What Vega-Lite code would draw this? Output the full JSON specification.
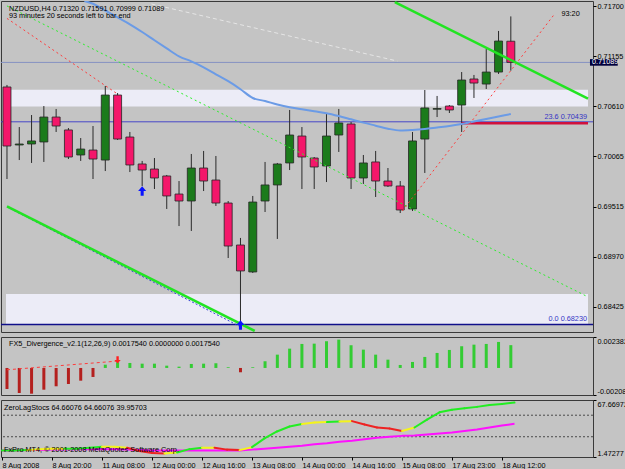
{
 "$schema": "https://vega.github.io/schema/vega-lite/v6.json",
 "background": "#c4c4c4",
 "padding": {"left": 0, "top": 0, "right": 0, "bottom": 0},
 "spacing": 3,
 "config": {
  "font": "Liberation Sans",
  "view": {"fill": "#c4c4c4", "stroke": "#3a3a3a", "strokeWidth": 1},
  "axis": {"labelFont": "Liberation Sans", "labelFontSize": 7.3, "labelColor": "#000000", "tickColor": "#000000", "tickSize": 3, "labelPadding": 1, "domain": false, "grid": false}
 },
 "datasets": {
  "candles": [
   {"i":0,"o":0.70821,"h":0.70843,"l":0.69817,"c":0.70177},
   {"i":1,"o":0.70188,"h":0.70384,"l":0.70024,"c":0.70199},
   {"i":2,"o":0.70199,"h":0.70515,"l":0.69992,"c":0.70232},
   {"i":3,"o":0.70221,"h":0.70613,"l":0.70003,"c":0.70493},
   {"i":4,"o":0.70493,"h":0.70581,"l":0.7033,"c":0.70395},
   {"i":5,"o":0.70352,"h":0.70373,"l":0.70035,"c":0.70057},
   {"i":6,"o":0.70079,"h":0.70264,"l":0.70014,"c":0.70144},
   {"i":7,"o":0.70133,"h":0.70395,"l":0.69817,"c":0.70035},
   {"i":8,"o":0.70024,"h":0.70832,"l":0.69904,"c":0.70733},
   {"i":9,"o":0.70733,"h":0.70755,"l":0.70243,"c":0.70253},
   {"i":10,"o":0.70275,"h":0.7033,"l":0.69893,"c":0.6997},
   {"i":11,"o":0.69981,"h":0.70014,"l":0.69741,"c":0.69915},
   {"i":12,"o":0.69926,"h":0.70046,"l":0.69708,"c":0.69828},
   {"i":13,"o":0.6985,"h":0.69861,"l":0.6949,"c":0.69632},
   {"i":14,"o":0.69653,"h":0.69795,"l":0.69304,"c":0.69577},
   {"i":15,"o":0.69577,"h":0.7009,"l":0.6925,"c":0.69937},
   {"i":16,"o":0.69937,"h":0.70123,"l":0.69686,"c":0.69795},
   {"i":17,"o":0.69806,"h":0.70068,"l":0.69523,"c":0.69555},
   {"i":18,"o":0.69555,"h":0.69577,"l":0.68955,"c":0.69086},
   {"i":19,"o":0.69097,"h":0.69174,"l":0.68214,"c":0.68814},
   {"i":20,"o":0.68803,"h":0.69632,"l":0.68792,"c":0.69566},
   {"i":21,"o":0.69577,"h":0.70003,"l":0.69457,"c":0.69752},
   {"i":22,"o":0.69752,"h":0.69992,"l":0.69163,"c":0.69981},
   {"i":23,"o":0.69992,"h":0.7057,"l":0.69915,"c":0.70297},
   {"i":24,"o":0.70286,"h":0.70384,"l":0.69708,"c":0.70057},
   {"i":25,"o":0.70046,"h":0.70057,"l":0.69708,"c":0.69948},
   {"i":26,"o":0.69959,"h":0.70526,"l":0.69784,"c":0.70286},
   {"i":27,"o":0.70297,"h":0.70581,"l":0.70112,"c":0.70428},
   {"i":28,"o":0.70417,"h":0.70439,"l":0.69708,"c":0.69828},
   {"i":29,"o":0.69828,"h":0.70079,"l":0.69763,"c":0.69992},
   {"i":30,"o":0.70003,"h":0.70123,"l":0.69621,"c":0.69795},
   {"i":31,"o":0.69795,"h":0.69937,"l":0.6973,"c":0.69741},
   {"i":32,"o":0.69741,"h":0.69795,"l":0.69446,"c":0.69479},
   {"i":33,"o":0.6949,"h":0.7033,"l":0.69468,"c":0.70232},
   {"i":34,"o":0.70253,"h":0.70788,"l":0.69883,"c":0.70592},
   {"i":35,"o":0.70578,"h":0.70723,"l":0.70493,"c":0.70586},
   {"i":36,"o":0.70613,"h":0.70624,"l":0.70537,"c":0.7057},
   {"i":37,"o":0.70624,"h":0.70984,"l":0.7033,"c":0.70897},
   {"i":38,"o":0.70908,"h":0.70952,"l":0.70701,"c":0.70864},
   {"i":39,"o":0.70853,"h":0.71235,"l":0.70799,"c":0.70984},
   {"i":40,"o":0.70984,"h":0.71432,"l":0.70963,"c":0.71322},
   {"i":41,"o":0.7132,"h":0.71591,"l":0.70999,"c":0.71089}
  ],
  "ma": [
   {"i":6.3,"v":0.71759},{"i":7,"v":0.71729},{"i":8,"v":0.71654},{"i":9,"v":0.71579},
   {"i":10,"v":0.71505},{"i":11,"v":0.71421},{"i":12,"v":0.71331},{"i":13,"v":0.71242},{"i":14,"v":0.71155},
   {"i":15,"v":0.711},{"i":16,"v":0.71036},{"i":17,"v":0.70959},{"i":18,"v":0.70884},{"i":19,"v":0.70796},
   {"i":20,"v":0.70701},{"i":21,"v":0.70668},{"i":22,"v":0.7063},{"i":23,"v":0.706},{"i":24,"v":0.70579},
   {"i":25,"v":0.70556},{"i":26,"v":0.70535},{"i":27,"v":0.70504},{"i":28,"v":0.70468},{"i":29,"v":0.70432},
   {"i":30,"v":0.70399},{"i":31,"v":0.70366},{"i":32,"v":0.70346},{"i":33,"v":0.70352},{"i":34,"v":0.70363},
   {"i":35,"v":0.70379},{"i":36,"v":0.70395},{"i":37,"v":0.70417},{"i":38,"v":0.70444},{"i":39,"v":0.70472},
   {"i":40,"v":0.70499},{"i":41,"v":0.70526}
  ],
  "bands": [
   {"lo":0.70608,"hi":0.70792},
   {"lo":0.68235,"hi":0.68563}
  ],
  "levels": [
   {"name":"fib236","p":0.70441},
   {"name":"fib0","p":0.6823},
   {"name":"bid","p":0.71089},
   {"name":"fibLine","p":0.70425,"i":37}
  ],
  "seg": [
   {"name":"chanU","i1":31.56,"p1":0.71746,"i2":47.28,"p2":0.70695},
   {"name":"chanL","i1":0,"p1":0.69518,"i2":20.16,"p2":0.68159},
   {"name":"blueDot","i1":0,"p1":0.69512,"i2":18.96,"p2":0.68208},
   {"name":"greenDot","i1":0,"p1":0.71705,"i2":47.2,"p2":0.68536},
   {"name":"redA","i1":0,"p1":0.71569,"i2":9.0,"p2":0.70744},
   {"name":"redB","i1":32.16,"p1":0.69468,"i2":44.56,"p2":0.71617},
   {"name":"silver","i1":11.76,"p1":0.71726,"i2":31.76,"p2":0.71104}
  ],
  "arrows": [
   {"i":11,"p":0.69686},
   {"i":19,"p":0.68224}
  ],
  "notes": [
   {"kind":"hdr","i":0.16,"p":0.71677,"t":"NZDUSD,H4  0.71320 0.71591 0.70999 0.71089"},
   {"kind":"hdr","i":0.16,"p":0.7159,"t":"93 minutes 20 seconds left to bar end"},
   {"kind":"hdr","i":45.12,"p":0.71612,"t":"93:20"},
   {"kind":"fib","i":47.2,"p":0.70449,"t":"23.6  0.70439"},
   {"kind":"fib","i":47.2,"p":0.68242,"t":"0.0  0.68230"},
   {"kind":"box","i":47.6,"p":0.71089,"t":"0.71089"}
  ],
  "hist": [
   {"i":0,"v":-0.001617},{"i":1,"v":-0.001925},{"i":2,"v":-0.001979},{"i":3,"v":-0.001671},
   {"i":4,"v":-0.001409},{"i":5,"v":-0.001232},{"i":6,"v":-0.000978},{"i":7,"v":-0.000693},
   {"i":8,"v":0.000254},{"i":9,"v":0.000439},{"i":10,"v":0.000385},{"i":11,"v":0.000331},
   {"i":12,"v":0.000331},{"i":13,"v":0.000177},{"i":14,"v":0.0001},{"i":15,"v":0.000308},
   {"i":16,"v":0.000331},{"i":17,"v":0.000362},{"i":18,"v":0.000054},{"i":19,"v":-0.000331},
   {"i":20,"v":0.000054},{"i":21,"v":0.000516},{"i":22,"v":0.001024},{"i":23,"v":0.001486},
   {"i":24,"v":0.001848},{"i":25,"v":0.001871},{"i":26,"v":0.002056},{"i":27,"v":0.002179},
   {"i":28,"v":0.001748},{"i":29,"v":0.001409},{"i":30,"v":0.001024},{"i":31,"v":0.000639},
   {"i":32,"v":0.000231},{"i":33,"v":0.000462},{"i":34,"v":0.000847},{"i":35,"v":0.001155},
   {"i":36,"v":0.001386},{"i":37,"v":0.001671},{"i":38,"v":0.001794},{"i":39,"v":0.001848},
   {"i":40,"v":0.002002},{"i":41,"v":0.001754}
  ],
  "hseg": [
   {"i1":0,"v1":-0.00014,"i2":8.9,"v2":0.00052}
  ],
  "harrow": [
   {"i":9,"v":0.00062}
  ],
  "hnotes": [
   {"i":0.16,"v":0.00188,"t":"FX5_Divergence_v2.1(12,26,9) 0.0017540 0.0000000 0.0017540"}
  ],
  "stoch": [
   {"i":0,"m":8.89,"s":8.89,"seg":"up"},
   {"i":1,"m":8.89,"s":8.89,"seg":"up"},
   {"i":2,"m":9.46,"s":9.46,"seg":"flat"},
   {"i":3,"m":10.6,"s":9.46,"seg":"flat"},
   {"i":4,"m":11.17,"s":10.04,"seg":"flat"},
   {"i":5,"m":11.17,"s":10.04,"seg":"up"},
   {"i":6,"m":11.17,"s":10.6,"seg":"up"},
   {"i":7,"m":12.31,"s":10.6,"seg":"up"},
   {"i":8,"m":13.46,"s":10.6,"seg":"flat"},
   {"i":9,"m":13.46,"s":10.6,"seg":"flat"},
   {"i":10,"m":12.31,"s":10.04,"seg":"down"},
   {"i":11,"m":8.32,"s":9.46,"seg":"down"},
   {"i":12,"m":6.04,"s":8.89,"seg":"down"},
   {"i":13,"m":5.47,"s":8.89,"seg":"flat"},
   {"i":14,"m":6.61,"s":8.89,"seg":"up"},
   {"i":15,"m":10.6,"s":8.89,"seg":"up"},
   {"i":16,"m":12.31,"s":8.89,"seg":"flat"},
   {"i":17,"m":12.31,"s":8.89,"seg":"down"},
   {"i":18,"m":10.04,"s":8.89,"seg":"down"},
   {"i":19,"m":9.46,"s":8.89,"seg":"flat"},
   {"i":20,"m":12.89,"s":10.04,"seg":"up"},
   {"i":21,"m":23.16,"s":11.17,"seg":"up"},
   {"i":22,"m":31.15,"s":12.31,"seg":"up"},
   {"i":23,"m":36.86,"s":13.46,"seg":"up"},
   {"i":24,"m":39.71,"s":14.6,"seg":"flat"},
   {"i":25,"m":41.42,"s":16.31,"seg":"flat"},
   {"i":26,"m":41.99,"s":17.45,"seg":"up"},
   {"i":27,"m":42.56,"s":19.16,"seg":"flat"},
   {"i":28,"m":43.13,"s":20.31,"seg":"down"},
   {"i":29,"m":39.14,"s":22.02,"seg":"down"},
   {"i":30,"m":35.71,"s":23.73,"seg":"down"},
   {"i":31,"m":34.57,"s":24.87,"seg":"down"},
   {"i":32,"m":31.72,"s":26.01,"seg":"flat"},
   {"i":33,"m":35.71,"s":26.58,"seg":"up"},
   {"i":34,"m":44.84,"s":27.72,"seg":"up"},
   {"i":35,"m":53.4,"s":28.87,"seg":"up"},
   {"i":36,"m":56.26,"s":30.01,"seg":"up"},
   {"i":37,"m":57.97,"s":31.72,"seg":"up"},
   {"i":38,"m":59.68,"s":33.43,"seg":"up"},
   {"i":39,"m":61.96,"s":35.71,"seg":"up"},
   {"i":40,"m":63.1,"s":37.99,"seg":"up"},
   {"i":41,"m":64.66076,"s":39.95703,"seg":"up"}
  ],
  "slevels": [{"v":50},{"v":25}],
  "snotes": [
   {"i":0.16,"v":58.5,"t":"ZeroLagStocs 64.66076 64.66076 39.95703"},
   {"i":0.16,"v":10.0,"t":"FxPro MT4, © 2001-2008 MetaQuotes Software Corp."}
  ]
 },
 "vconcat": [
  {
   "width": 592, "height": 331,
   "layer": [
    {"data":{"name":"bands"},"mark":{"type":"rect","color":"#ececf7","clip":true},
     "encoding":{
      "x":{"datum":-0.08,"type":"quantitative","scale":{"domain":[-0.08,47.28],"nice":false,"zero":false},"axis":null},
      "x2":{"datum":47.28},
      "y":{"field":"lo","type":"quantitative","scale":{"domain":[0.68148,0.717589],"nice":false,"zero":false},"title":null,
           "axis":{"orient":"right","values":[0.717,0.7143,0.71155,0.7088,0.7061,0.70335,0.70065,0.6979,0.69515,0.69245,0.6897,0.68695,0.68425],"format":".5f","labelOverlap":false}},
      "y2":{"field":"hi"}}},
    {"data":{"name":"levels"},"transform":[{"filter":"datum.name=='fib236'"}],"mark":{"type":"rule","color":"#4848c8","strokeWidth":1,"clip":true},
     "encoding":{"y":{"field":"p","type":"quantitative","scale":{"domain":[0.68148,0.717589],"nice":false,"zero":false},"title":null}}},
    {"data":{"name":"levels"},"transform":[{"filter":"datum.name=='fib0'"}],"mark":{"type":"rule","color":"#10108a","strokeWidth":1.5,"clip":true},
     "encoding":{"y":{"field":"p","type":"quantitative","scale":{"domain":[0.68148,0.717589],"nice":false,"zero":false},"title":null}}},
    {"data":{"name":"levels"},"transform":[{"filter":"datum.name=='bid'"}],"mark":{"type":"rule","color":"#8592c2","strokeWidth":1,"clip":true},
     "encoding":{"y":{"field":"p","type":"quantitative","scale":{"domain":[0.68148,0.717589],"nice":false,"zero":false},"title":null}}},
    {"data":{"name":"candles"},"mark":{"type":"rule","color":"#2a2a2a","strokeWidth":1,"clip":true},
     "encoding":{
      "x":{"field":"i","type":"quantitative","scale":{"domain":[-0.08,47.28],"nice":false,"zero":false},"axis":null},
      "y":{"field":"l","type":"quantitative","scale":{"domain":[0.68148,0.717589],"nice":false,"zero":false},"title":null},
      "y2":{"field":"h"}}},
    {"data":{"name":"candles"},"mark":{"type":"bar","size":8,"stroke":"#262626","strokeWidth":0.8,"clip":true},
     "encoding":{
      "x":{"field":"i","type":"quantitative","scale":{"domain":[-0.08,47.28],"nice":false,"zero":false},"axis":null},
      "y":{"field":"o","type":"quantitative","scale":{"domain":[0.68148,0.717589],"nice":false,"zero":false},"title":null},
      "y2":{"field":"c"},
      "color":{"condition":{"test":"datum.c >= datum.o","value":"#1b7b1b"},"value":"#f4176a"}}},
    {"data":{"name":"levels"},"transform":[{"filter":"datum.name=='fibLine'"}],"mark":{"type":"rule","color":"#d0103c","strokeWidth":2.5,"clip":true},
     "encoding":{
      "x":{"field":"i","type":"quantitative","scale":{"domain":[-0.08,47.28],"nice":false,"zero":false},"axis":null},
      "x2":{"datum":47.28},
      "y":{"field":"p","type":"quantitative","scale":{"domain":[0.68148,0.717589],"nice":false,"zero":false},"title":null}}},
    {"data":{"name":"ma"},"mark":{"type":"line","color":"#6b9be6","strokeWidth":2,"clip":true,"interpolate":"monotone","strokeJoin":"round"},
     "encoding":{
      "x":{"field":"i","type":"quantitative","scale":{"domain":[-0.08,47.28],"nice":false,"zero":false},"axis":null},
      "y":{"field":"v","type":"quantitative","scale":{"domain":[0.68148,0.717589],"nice":false,"zero":false},"title":null}}},
    {"data":{"name":"seg"},"transform":[{"filter":"datum.name=='silver'"}],"mark":{"type":"rule","color":"#e6e6e6","strokeWidth":1,"strokeDash":[4,3],"clip":true},
     "encoding":{
      "x":{"field":"i1","type":"quantitative","scale":{"domain":[-0.08,47.28],"nice":false,"zero":false},"axis":null},"x2":{"field":"i2"},
      "y":{"field":"p1","type":"quantitative","scale":{"domain":[0.68148,0.717589],"nice":false,"zero":false},"title":null},"y2":{"field":"p2"}}},
    {"data":{"name":"seg"},"transform":[{"filter":"datum.name=='greenDot'"}],"mark":{"type":"rule","color":"#2cf02c","strokeWidth":1,"strokeDash":[2,3],"clip":true},
     "encoding":{
      "x":{"field":"i1","type":"quantitative","scale":{"domain":[-0.08,47.28],"nice":false,"zero":false},"axis":null},"x2":{"field":"i2"},
      "y":{"field":"p1","type":"quantitative","scale":{"domain":[0.68148,0.717589],"nice":false,"zero":false},"title":null},"y2":{"field":"p2"}}},
    {"data":{"name":"seg"},"transform":[{"filter":"datum.name=='blueDot'"}],"mark":{"type":"rule","color":"#3444d0","strokeWidth":1,"strokeDash":[2,2],"clip":true},
     "encoding":{
      "x":{"field":"i1","type":"quantitative","scale":{"domain":[-0.08,47.28],"nice":false,"zero":false},"axis":null},"x2":{"field":"i2"},
      "y":{"field":"p1","type":"quantitative","scale":{"domain":[0.68148,0.717589],"nice":false,"zero":false},"title":null},"y2":{"field":"p2"}}},
    {"data":{"name":"seg"},"transform":[{"filter":"datum.name=='redA' || datum.name=='redB'"}],"mark":{"type":"rule","color":"#ff3c3c","strokeWidth":1,"strokeDash":[2,3],"clip":true},
     "encoding":{
      "x":{"field":"i1","type":"quantitative","scale":{"domain":[-0.08,47.28],"nice":false,"zero":false},"axis":null},"x2":{"field":"i2"},
      "y":{"field":"p1","type":"quantitative","scale":{"domain":[0.68148,0.717589],"nice":false,"zero":false},"title":null},"y2":{"field":"p2"}}},
    {"data":{"name":"seg"},"transform":[{"filter":"datum.name=='chanU' || datum.name=='chanL'"}],"mark":{"type":"rule","color":"#22e422","strokeWidth":2.5,"clip":true},
     "encoding":{
      "x":{"field":"i1","type":"quantitative","scale":{"domain":[-0.08,47.28],"nice":false,"zero":false},"axis":null},"x2":{"field":"i2"},
      "y":{"field":"p1","type":"quantitative","scale":{"domain":[0.68148,0.717589],"nice":false,"zero":false},"title":null},"y2":{"field":"p2"}}},
    {"data":{"name":"arrows"},"mark":{"type":"point","shape":"M0,-1L0.85,0L0.32,0L0.32,1L-0.32,1L-0.32,0L-0.85,0Z","filled":true,"color":"#0a14ff","size":90,"opacity":1,"clip":true},
     "encoding":{
      "x":{"field":"i","type":"quantitative","scale":{"domain":[-0.08,47.28],"nice":false,"zero":false},"axis":null},
      "y":{"field":"p","type":"quantitative","scale":{"domain":[0.68148,0.717589],"nice":false,"zero":false},"title":null}}},
    {"data":{"name":"notes"},"transform":[{"filter":"datum.kind=='hdr'"}],"mark":{"type":"text","align":"left","baseline":"middle","fontSize":7.3,"color":"#000000","font":"Liberation Sans","clip":true},
     "encoding":{
      "x":{"field":"i","type":"quantitative","scale":{"domain":[-0.08,47.28],"nice":false,"zero":false},"axis":null},
      "y":{"field":"p","type":"quantitative","scale":{"domain":[0.68148,0.717589],"nice":false,"zero":false},"title":null},
      "text":{"field":"t"}}},
    {"data":{"name":"notes"},"transform":[{"filter":"datum.kind=='fib'"}],"mark":{"type":"text","align":"right","baseline":"bottom","fontSize":7.3,"color":"#3434c4","font":"Liberation Sans","clip":true},
     "encoding":{
      "x":{"field":"i","type":"quantitative","scale":{"domain":[-0.08,47.28],"nice":false,"zero":false},"axis":null},
      "y":{"field":"p","type":"quantitative","scale":{"domain":[0.68148,0.717589],"nice":false,"zero":false},"title":null},
      "text":{"field":"t"}}},
    {"data":{"name":"notes"},"transform":[{"filter":"datum.kind=='box'"}],"mark":{"type":"rect","color":"#00003c"},
     "encoding":{
      "x":{"datum":47.44,"type":"quantitative","scale":{"domain":[-0.08,47.28],"nice":false,"zero":false},"axis":null},
      "x2":{"datum":49.7},
      "y":{"datum":0.71053,"type":"quantitative","scale":{"domain":[0.68148,0.717589],"nice":false,"zero":false},"title":null},
      "y2":{"datum":0.71125}}},
    {"data":{"name":"notes"},"transform":[{"filter":"datum.kind=='box'"}],"mark":{"type":"text","align":"left","baseline":"middle","fontSize":7.3,"color":"#ffffff","font":"Liberation Sans"},
     "encoding":{
      "x":{"field":"i","type":"quantitative","scale":{"domain":[-0.08,47.28],"nice":false,"zero":false},"axis":null},
      "y":{"field":"p","type":"quantitative","scale":{"domain":[0.68148,0.717589],"nice":false,"zero":false},"title":null},
      "text":{"field":"t"}}}
   ]
  },
  {
   "width": 592, "height": 58,
   "layer": [
    {"data":{"name":"hist"},"mark":{"type":"bar","size":3,"clip":true},
     "encoding":{
      "x":{"field":"i","type":"quantitative","scale":{"domain":[-0.08,47.28],"nice":false,"zero":false},"axis":null},
      "y":{"field":"v","type":"quantitative","scale":{"domain":[-0.00208,0.002382],"nice":false,"zero":false},"title":null,
           "axis":{"orient":"right","values":[0.002382,0,-0.00208],"labelExpr":"datum.value == 0 ? '0.00' : replace(format(datum.value, datum.value > 0 ? '.6f' : '.5f'), '\u2212', '-')","labelFlush":true,"labelOverlap":false}},
      "y2":{"datum":0},
      "color":{"condition":{"test":"datum.v < 0","value":"#b4201e"},"value":"#33cc33"}}},
    {"data":{"name":"hseg"},"mark":{"type":"rule","color":"#ff3c3c","strokeWidth":1,"strokeDash":[3,3],"clip":true},
     "encoding":{
      "x":{"field":"i1","type":"quantitative","scale":{"domain":[-0.08,47.28],"nice":false,"zero":false},"axis":null},"x2":{"field":"i2"},
      "y":{"field":"v1","type":"quantitative","scale":{"domain":[-0.00208,0.002382],"nice":false,"zero":false},"title":null},"y2":{"field":"v2"}}},
    {"data":{"name":"harrow"},"mark":{"type":"point","shape":"M0,1L0.85,0L0.32,0L0.32,-1L-0.32,-1L-0.32,0L-0.85,0Z","filled":true,"color":"#ff2020","size":55,"opacity":1,"clip":true},
     "encoding":{
      "x":{"field":"i","type":"quantitative","scale":{"domain":[-0.08,47.28],"nice":false,"zero":false},"axis":null},
      "y":{"field":"v","type":"quantitative","scale":{"domain":[-0.00208,0.002382],"nice":false,"zero":false},"title":null}}},
    {"data":{"name":"hnotes"},"mark":{"type":"text","align":"left","baseline":"middle","fontSize":7.3,"color":"#000000","font":"Liberation Sans","clip":true},
     "encoding":{
      "x":{"field":"i","type":"quantitative","scale":{"domain":[-0.08,47.28],"nice":false,"zero":false},"axis":null},
      "y":{"field":"v","type":"quantitative","scale":{"domain":[-0.00208,0.002382],"nice":false,"zero":false},"title":null},
      "text":{"field":"t"}}}
   ]
  },
  {
   "width": 592, "height": 57,
   "layer": [
    {"data":{"name":"slevels"},"mark":{"type":"rule","color":"#4a4a4a","strokeWidth":1,"strokeDash":[2,2],"clip":true},
     "encoding":{
      "y":{"field":"v","type":"quantitative","scale":{"domain":[1.47277,67.66972],"nice":false,"zero":false},"title":null,
           "axis":{"orient":"right","values":[67.66972,50,25,1.47277],"labelExpr":"datum.value == 50 || datum.value == 25 ? format(datum.value, 'd') : format(datum.value, '.5f')","labelFlush":true,"labelOverlap":false}}}},
    {"data":{"name":"stoch"},"mark":{"type":"line","color":"#ff10ff","strokeWidth":2,"clip":true,"strokeJoin":"round"},
     "encoding":{
      "x":{"field":"i","type":"quantitative","scale":{"domain":[-0.08,47.28],"nice":false,"zero":false},"title":null,
           "axis":{"orient":"bottom","values":[0,4,8,12,16,20,24,28,32,36,40],"labelExpr":"['8 Aug 2008','8 Aug 20:00','11 Aug 08:00','12 Aug 00:00','12 Aug 16:00','13 Aug 08:00','14 Aug 00:00','14 Aug 16:00','15 Aug 08:00','17 Aug 23:00','18 Aug 12:00'][round(datum.value/4)]","labelAlign":"left","labelFlush":false,"labelOverlap":false,"tickSize":3,"labelPadding":1}},
      "y":{"field":"s","type":"quantitative","scale":{"domain":[1.47277,67.66972],"nice":false,"zero":false},"title":null}}},
    {"data":{"name":"stoch"},
     "transform":[{"window":[{"op":"lead","field":"i","as":"i2"},{"op":"lead","field":"m","as":"m2"}],"sort":[{"field":"i"}]},{"filter":"datum.i2 != null"}],
     "mark":{"type":"rule","strokeWidth":2,"strokeCap":"round","clip":true},
     "encoding":{
      "x":{"field":"i","type":"quantitative","scale":{"domain":[-0.08,47.28],"nice":false,"zero":false},"title":null},"x2":{"field":"i2"},
      "y":{"field":"m","type":"quantitative","scale":{"domain":[1.47277,67.66972],"nice":false,"zero":false},"title":null},"y2":{"field":"m2"},
      "color":{"field":"seg","type":"nominal","scale":{"domain":["up","flat","down"],"range":["#22ee22","#f4f41c","#ee2222"]},"legend":null}}},
    {"data":{"name":"snotes"},"mark":{"type":"text","align":"left","baseline":"middle","fontSize":7.3,"color":"#000000","font":"Liberation Sans","clip":true},
     "encoding":{
      "x":{"field":"i","type":"quantitative","scale":{"domain":[-0.08,47.28],"nice":false,"zero":false},"title":null},
      "y":{"field":"v","type":"quantitative","scale":{"domain":[1.47277,67.66972],"nice":false,"zero":false},"title":null},
      "text":{"field":"t"}}}
   ]
  }
 ]
}
